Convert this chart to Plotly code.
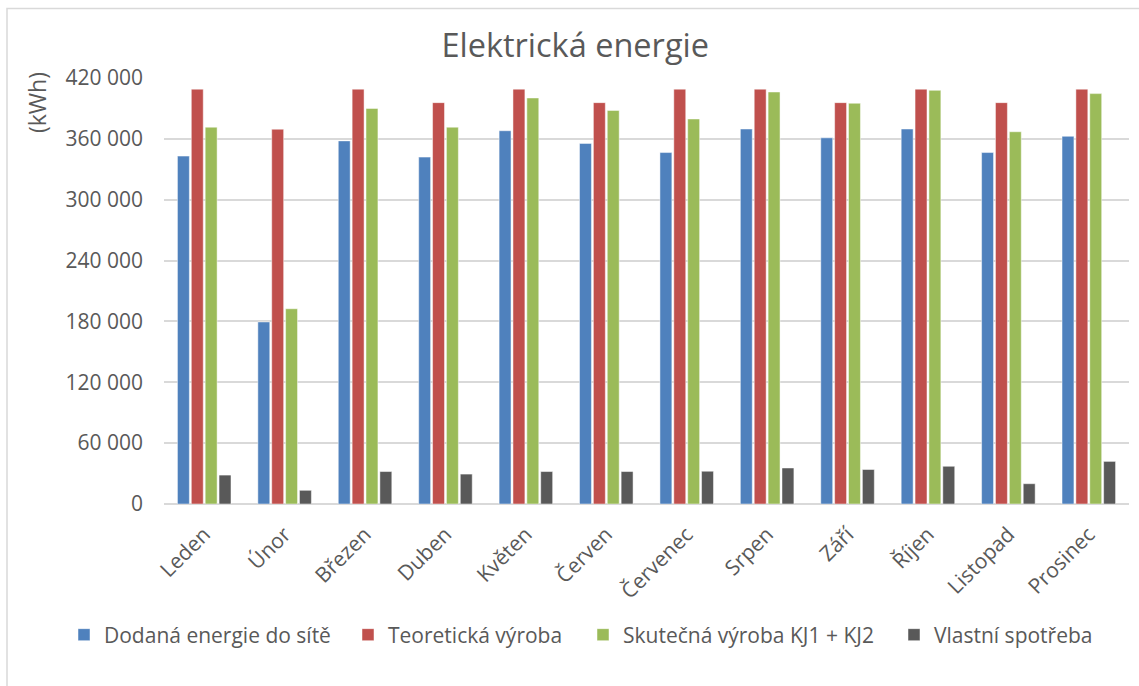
import plotly.graph_objects as go

months = ["Leden", "Únor", "Březen", "Duben", "Květen", "Červen", "Červenec",
          "Srpen", "Září", "Říjen", "Listopad", "Prosinec"]

dodana = [343000, 179500, 358000, 342000, 368000, 355500, 346500, 369700, 361000, 369700, 346500, 362500]
teoreticka = [409000, 369500, 409000, 395700, 409000, 395700, 409000, 409000, 395700, 409000, 395700, 409000]
skutecna = [371500, 192500, 390000, 371500, 400300, 388000, 379600, 406200, 395100, 407800, 367000, 404600]
vlastni = [28500, 13500, 32000, 29500, 32000, 32000, 32300, 35500, 34000, 37200, 20000, 42000]

series = [
    ("Dodaná energie do sítě", dodana, "#4F81BD", 239),
    ("Teoretická výroba", teoreticka, "#C0504D", 190),
    ("Skutečná výroba KJ1 + KJ2", skutecna, "#9BBB59", 266),
    ("Vlastní spotřeba", vlastni, "#595959", 170),
]

y_ticks = [0, 60000, 120000, 180000, 240000, 300000, 360000, 420000]

FONT = "Open Sans"
TXT = "#595959"

fig = go.Figure()
for name, vals, col, lw in series:
    fig.add_trace(go.Bar(
        x=months, y=vals, name=name, legendwidth=lw,
        marker=dict(color=col, line=dict(color="rgba(255,255,255,0.6)", width=0.8)),
    ))

fig.update_layout(
    width=1139, height=686,
    margin=dict(l=164, r=10, t=78, b=182),
    paper_bgcolor="white", plot_bgcolor="white",
    barmode="group", bargap=0.31, bargroupgap=0.14,
    separators=", ",
    font=dict(family=FONT, color=TXT, size=21),
    title=dict(text="Elektrická energie", x=0.505, xanchor="center",
               y=1 - 46 / 686, yanchor="middle",
               font=dict(family=FONT, size=32.5, color=TXT)),
    xaxis=dict(
        showgrid=False, showline=False, tickangle=-45,
        tickfont=dict(family=FONT, size=21, color=TXT),
        ticklabelstandoff=13,
    ),
    yaxis=dict(
        range=[0, 420000], tickvals=y_ticks, tickformat=",d",
        showgrid=True, gridcolor="#D9D9D9", gridwidth=1.5,
        zeroline=True, zerolinecolor="#D9D9D9", zerolinewidth=1.5,
        showline=False,
        tickfont=dict(family=FONT, size=21, color=TXT),
        ticklabelstandoff=20,
    ),
    legend=dict(
        orientation="h",
        x=(64 - 164) / 965, xanchor="left",
        y=(504 - 635) / 426, yanchor="middle",
        font=dict(family=FONT, size=21, color=TXT),
        bgcolor="rgba(0,0,0,0)",
    ),
    showlegend=True,
)

fig.add_annotation(
    text="(kWh)", textangle=-90, showarrow=False,
    xref="paper", yref="paper",
    x=(37 - 164) / 965, y=(504 - 103) / 426,
    xanchor="center", yanchor="middle",
    font=dict(family=FONT, size=23, color=TXT),
)

fig.add_shape(
    type="rect", xref="paper", yref="paper",
    x0=(7 - 164) / 965, x1=1.1, y0=-0.6, y1=(504 - 8.5) / 426,
    line=dict(color="#D9D9D9", width=1.5), fillcolor="rgba(0,0,0,0)",
    layer="below",
)

fig.write_html("out.html")
